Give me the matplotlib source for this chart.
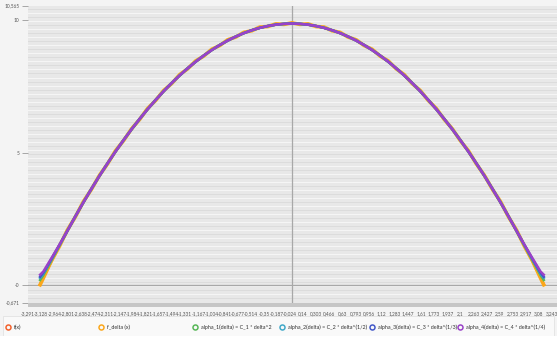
import numpy as np
import matplotlib
matplotlib.use("Agg")
import matplotlib.pyplot as plt
from matplotlib.lines import Line2D
from matplotlib.patches import Rectangle

# Sample positions along the x axis
x = [-3.14, -3.1, -3.0, -2.9, -2.8, -2.7, -2.6, -2.5, -2.4, -2.3, -2.2, -2.1,
     -2.0, -1.9, -1.8, -1.7, -1.6, -1.5, -1.4, -1.3, -1.2, -1.1, -1.0, -0.9,
     -0.8, -0.7, -0.6, -0.5, -0.4, -0.3, -0.2, -0.1, 0.0,
     0.1, 0.2, 0.3, 0.4, 0.5, 0.6, 0.7, 0.8, 0.9, 1.0, 1.1, 1.2, 1.3, 1.4,
     1.5, 1.6, 1.7, 1.8, 1.9, 2.0, 2.1, 2.2, 2.3, 2.4, 2.5, 2.6, 2.7, 2.8,
     2.9, 3.0, 3.1, 3.14]

f_x = [0.02, 0.27, 0.88, 1.47, 2.04, 2.59, 3.12, 3.63, 4.12, 4.59, 5.04, 5.47,
       5.88, 6.27, 6.64, 6.99, 7.32, 7.63, 7.92, 8.19, 8.44, 8.67, 8.88, 9.07,
       9.24, 9.39, 9.52, 9.63, 9.72, 9.79, 9.84, 9.87, 9.88,
       9.87, 9.84, 9.79, 9.72, 9.63, 9.52, 9.39, 9.24, 9.07, 8.88, 8.67, 8.44,
       8.19, 7.92, 7.63, 7.32, 6.99, 6.64, 6.27, 5.88, 5.47, 5.04, 4.59, 4.12,
       3.63, 3.12, 2.59, 2.04, 1.47, 0.88, 0.27, 0.02]

f_delta = [0.00, 0.25, 0.90, 1.45, 2.07, 2.57, 3.15, 3.61, 4.14, 4.57, 5.07, 5.45,
           5.90, 6.25, 6.67, 6.97, 7.35, 7.61, 7.95, 8.17, 8.47, 8.65, 8.91, 9.05,
           9.27, 9.37, 9.55, 9.61, 9.75, 9.77, 9.87, 9.85, 9.91,
           9.85, 9.87, 9.77, 9.75, 9.61, 9.55, 9.37, 9.27, 9.05, 8.91, 8.65, 8.47,
           8.17, 7.95, 7.61, 7.35, 6.97, 6.67, 6.25, 5.90, 5.45, 5.07, 4.57, 4.14,
           3.61, 3.15, 2.57, 2.07, 1.45, 0.90, 0.25, 0.00]

alpha_1 = [0.18, 0.36, 0.92, 1.48, 2.04, 2.59, 3.12, 3.63, 4.12, 4.59, 5.04, 5.47,
           5.88, 6.27, 6.64, 6.99, 7.32, 7.63, 7.92, 8.19, 8.44, 8.67, 8.88, 9.07,
           9.24, 9.39, 9.52, 9.63, 9.72, 9.79, 9.84, 9.87, 9.88,
           9.87, 9.84, 9.79, 9.72, 9.63, 9.52, 9.39, 9.24, 9.07, 8.88, 8.67, 8.44,
           8.19, 7.92, 7.63, 7.32, 6.99, 6.64, 6.27, 5.88, 5.47, 5.04, 4.59, 4.12,
           3.63, 3.12, 2.59, 2.04, 1.48, 0.92, 0.36, 0.18]

alpha_2 = [0.26, 0.42, 0.95, 1.49, 2.04, 2.59, 3.12, 3.63, 4.12, 4.59, 5.04, 5.47,
           5.88, 6.27, 6.64, 6.99, 7.32, 7.63, 7.92, 8.19, 8.44, 8.67, 8.88, 9.07,
           9.24, 9.39, 9.52, 9.63, 9.72, 9.79, 9.84, 9.87, 9.88,
           9.87, 9.84, 9.79, 9.72, 9.63, 9.52, 9.39, 9.24, 9.07, 8.88, 8.67, 8.44,
           8.19, 7.92, 7.63, 7.32, 6.99, 6.64, 6.27, 5.88, 5.47, 5.04, 4.59, 4.12,
           3.63, 3.12, 2.59, 2.04, 1.49, 0.95, 0.42, 0.26]

alpha_3 = [0.30, 0.45, 0.97, 1.50, 2.04, 2.59, 3.12, 3.63, 4.12, 4.59, 5.04, 5.47,
           5.88, 6.27, 6.64, 6.99, 7.32, 7.63, 7.92, 8.19, 8.44, 8.67, 8.88, 9.07,
           9.24, 9.39, 9.52, 9.63, 9.72, 9.79, 9.84, 9.87, 9.88,
           9.87, 9.84, 9.79, 9.72, 9.63, 9.52, 9.39, 9.24, 9.07, 8.88, 8.67, 8.44,
           8.19, 7.92, 7.63, 7.32, 6.99, 6.64, 6.27, 5.88, 5.47, 5.04, 4.59, 4.12,
           3.63, 3.12, 2.59, 2.04, 1.50, 0.97, 0.45, 0.30]

alpha_4 = [0.38, 0.50, 1.00, 1.51, 2.04, 2.59, 3.12, 3.63, 4.12, 4.59, 5.04, 5.47,
           5.88, 6.27, 6.64, 6.99, 7.32, 7.63, 7.92, 8.19, 8.44, 8.67, 8.88, 9.07,
           9.24, 9.39, 9.52, 9.63, 9.72, 9.79, 9.84, 9.87, 9.88,
           9.87, 9.84, 9.79, 9.72, 9.63, 9.52, 9.39, 9.24, 9.07, 8.88, 8.67, 8.44,
           8.19, 7.92, 7.63, 7.32, 6.99, 6.64, 6.27, 5.88, 5.47, 5.04, 4.59, 4.12,
           3.63, 3.12, 2.59, 2.04, 1.51, 1.00, 0.50, 0.38]

series_names = ["f(x)", "f_delta (x)", "alpha_1(delta) = C_1 * delta^2",
                "alpha_2(delta) = C_2 * delta^(1/2)",
                "alpha_3(delta) = C_3 * delta^(1/3)",
                "alpha_4(delta) = C_4 * delta^(1/4)"]
series_colors = ["#f3622d", "#fba71b", "#57b757", "#41a9c9", "#4258c9", "#9a42c8"]

x_ticks = [-3.291, -3.128, -2.964, -2.801, -2.638, -2.474, -2.311, -2.147,
           -1.984, -1.821, -1.657, -1.494, -1.331, -1.167, -1.004, -0.841,
           -0.677, -0.514, -0.35, -0.187, -0.024, 0.14, 0.303, 0.466, 0.63,
           0.793, 0.956, 1.12, 1.283, 1.447, 1.61, 1.773, 1.937, 2.1, 2.263,
           2.427, 2.59, 2.753, 2.917, 3.08, 3.243]
y_ticks = [-0.671, 0, 5, 10, 10.565]
y_tick_labels = ["-0,671", "-0", "5", "10", "10,565"]

W, H = 557, 340
fig = plt.figure(figsize=(W / 100, H / 100), dpi=100)
fig.patch.set_facecolor("#f4f4f4")

left_px, right_px, top_px, bottom_px = 28, 557, 5.5, 302.5
ax = fig.add_axes([left_px / W, 1 - bottom_px / H,
                   (right_px - left_px) / W, (bottom_px - top_px) / H])
ax.set_facecolor("#e8e8e8")
ax.set_xlim(-3.291, 3.305)
ax.set_ylim(-0.671, 10.565)

# dense horizontal grid bands
for i, yy in enumerate(np.arange(-0.671, 10.565, 0.152)):
    ax.axhline(yy, color="#f6f6f6" if i % 2 == 0 else "#dcdcdc",
               lw=0.7, zorder=0)

ax.axhline(0, color="#a8a8a8", lw=0.9, zorder=1)
ax.axvline(0, color="#a8a8a8", lw=0.9, zorder=1)

for vals, col in zip([f_x, f_delta, alpha_1, alpha_2, alpha_3, alpha_4],
                     series_colors):
    lw = 2.6 if col == "#fba71b" else 1.8
    ax.plot(x, vals, color=col, lw=lw, solid_joinstyle="round", zorder=3)

for s in ax.spines.values():
    s.set_visible(False)

lab_font = dict(family="Lato", size=3.4, color="#555555")
ax.set_xticks(x_ticks)
ax.set_xticklabels([f"{v:g}".replace(".", ",") for v in x_ticks], **lab_font)
ax.set_yticks(y_ticks)
ax.set_yticklabels(y_tick_labels, **lab_font)
ax.tick_params(axis="x", length=0, pad=6)
ax.tick_params(axis="y", length=4, width=0.6, color="#9a9a9a", pad=2)

# densely ticked x-axis strip
fig.add_artist(Rectangle((left_px / W, 1 - 307 / H), (right_px - left_px) / W,
                         4.5 / H, transform=fig.transFigure,
                         facecolor="#c6c6c6", edgecolor="none"))

# legend strip
fig.add_artist(Rectangle((3 / W, 1 - 336 / H), (W - 6) / W, 20 / H,
                         transform=fig.transFigure, facecolor="#f9f9f9",
                         edgecolor="#e2e2e2", lw=0.6, zorder=0))
fig.add_artist(Rectangle((0, 0), 1, 4 / H, transform=fig.transFigure,
                         facecolor="white", edgecolor="none", zorder=0))
marker_px = [8, 101, 195, 282, 372, 460]
ly = 1 - 327 / H
for name, col, mx in zip(series_names, series_colors, marker_px):
    fig.add_artist(Line2D([mx / W], [ly], marker="o", ms=3.6, mfc="none",
                          mec=col, mew=1.1, transform=fig.transFigure))
    fig.text((mx + 6) / W, ly, name, va="center", ha="left",
             family="Lato", size=3.9, color="#333333")

fig.savefig("out.png", dpi=100, facecolor=fig.get_facecolor())
